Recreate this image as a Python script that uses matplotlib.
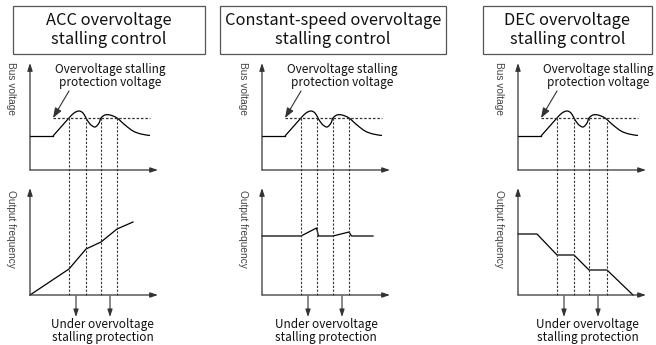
import numpy as np
import matplotlib
matplotlib.use("Agg")
import matplotlib.pyplot as plt
from matplotlib.path import Path
from matplotlib.patches import PathPatch, Rectangle

# panel titles and labels
titles = ["ACC overvoltage\nstalling control",
          "Constant-speed overvoltage\nstalling control",
          "DEC overvoltage\nstalling control"]
bus_label = "Bus voltage"
freq_label = "Output frequency"
limit_text = "Overvoltage stalling\nprotection voltage"
under_text = "Under overvoltage\nstalling protection"

# bus voltage (same shape in all three panels): flat part, then smooth part
bus_flat_t = [0, 23]
bus_flat_v = [34, 34]
bus_t = [23, 33, 39, 44, 49, 53, 56, 60, 65, 69, 71, 75, 80, 87, 95, 103, 111, 120]
bus_v = [34, 45.3, 52, 57, 59, 57, 52, 46, 43, 47, 52, 55, 55, 52, 45, 39, 36, 34.5]
limit_v = 52
limit_span = [23, 120]

# output frequency per panel
acc_t = [0, 39, 56, 71, 87, 103]
acc_f = [0, 26, 46, 53, 66, 73]
const_t = [0, 39, 54.5, 56.5, 71, 87, 89.5, 111]
const_f = [59, 59, 67, 59, 59, 63, 59, 59]
dec_t = [0, 19, 39, 56, 71, 89, 115]
dec_f = [61, 61, 40, 40, 25, 25, 0]

# crossing times (vertical dashed lines) per panel
acc_cross = [39, 56, 71, 87]
const_cross = [39, 55, 71, 87]
dec_cross = [39, 56, 71, 89]

# panel layout (pixels)
axis_x = [30, 262, 518]
box_x = [(13, 205), (220, 446), (483, 652)]
under_x = [72.5, 64, 69.5]
top_base = 170
bot_base = 295
ax_h = 107
ax_w = 128

freq_t = [acc_t, const_t, dec_t]
freq_f = [acc_f, const_f, dec_f]
crosses = [acc_cross, const_cross, dec_cross]

AX_COL = "#333333"
CJK = ["Noto Sans CJK SC", "DejaVu Sans"]


def smooth_path(xs, ys):
    # catmull-rom through the points, drawn as cubic beziers
    pts = np.column_stack([xs, ys])
    verts = [pts[0]]
    codes = [Path.MOVETO]
    n = len(pts)
    for i in range(n - 1):
        p0 = pts[max(i - 1, 0)]
        p1 = pts[i]
        p2 = pts[i + 1]
        p3 = pts[min(i + 2, n - 1)]
        c1 = p1 + (p2 - p0) / 6.0
        c2 = p2 - (p3 - p1) / 6.0
        verts += [c1, c2, p2]
        codes += [Path.CURVE4] * 3
    return Path(verts, codes)


def axis_arrow(ax, x0, y0, x1, y1):
    ax.annotate("", xy=(x1, y1), xytext=(x0, y0),
                arrowprops=dict(arrowstyle="-|>,head_length=0.45,head_width=0.15",
                                lw=0.9, color=AX_COL, shrinkA=0, shrinkB=0))


fig = plt.figure(figsize=(6.56, 3.45), dpi=100)
ax = fig.add_axes([0, 0, 1, 1])
ax.set_xlim(0, 656)
ax.set_ylim(345, 0)
ax.axis("off")

for k in range(3):
    x0 = axis_x[k]

    # title box
    bx0, bx1 = box_x[k]
    ax.add_patch(Rectangle((bx0, 6), bx1 - bx0, 48, fill=False, lw=0.9, ec="#555555"))
    ax.text((bx0 + bx1) / 2, 30, titles[k], ha="center", va="center",
            fontsize=11.8, family=CJK, linespacing=1.1, color="#111111")

    # axes
    axis_arrow(ax, x0, top_base, x0, top_base - ax_h)
    axis_arrow(ax, x0, top_base, x0 + ax_w, top_base)
    axis_arrow(ax, x0, bot_base, x0, bot_base - ax_h)
    axis_arrow(ax, x0, bot_base, x0 + ax_w, bot_base)

    ax.text(x0 - 19, 88, bus_label, rotation=-90, ha="center", va="center",
            fontsize=7.3, family="Liberation Sans", color="#444444")
    ax.text(x0 - 19, 229, freq_label, rotation=-90, ha="center", va="center",
            fontsize=7.3, family="Liberation Sans", color="#444444")

    # protection voltage level
    ax.plot([x0 + limit_span[0], x0 + limit_span[1]], [top_base - limit_v] * 2,
            color=AX_COL, lw=0.9, ls=(0, (2, 1.5)))

    # bus voltage curve
    ax.plot([x0 + t for t in bus_flat_t], [top_base - v for v in bus_flat_v],
            color="black", lw=0.9)
    p = smooth_path([x0 + t for t in bus_t], [top_base - v for v in bus_v])
    ax.add_patch(PathPatch(p, fill=False, lw=0.9, ec="black"))

    # output frequency
    ax.plot([x0 + t for t in freq_t[k]], [bot_base - f for f in freq_f[k]],
            color="black", lw=0.9)

    # crossings
    for t in crosses[k]:
        ax.plot([x0 + t, x0 + t], [top_base - limit_v, bot_base],
                color=AX_COL, lw=0.8, ls=(0, (2, 1.5)))

    # annotation of protection voltage
    ax.text(x0 + 80, 76, limit_text, ha="center", va="center",
            fontsize=8.5, family=CJK, linespacing=1.0, color="#111111")
    ax.annotate("", xy=(x0 + 23, top_base - limit_v), xytext=(x0 + 39, 91),
                arrowprops=dict(arrowstyle="-|>,head_length=0.6,head_width=0.22",
                                lw=0.8, color=AX_COL, shrinkA=0, shrinkB=0))

    # under protection arrows
    for t in [46, 80]:
        ax.annotate("", xy=(x0 + t, 317), xytext=(x0 + t, 296),
                    arrowprops=dict(arrowstyle="-|>,head_length=0.45,head_width=0.15",
                                    lw=0.8, color=AX_COL, shrinkA=0, shrinkB=0))
    ax.text(x0 + under_x[k], 331, under_text, ha="center", va="center",
            fontsize=8.5, family=CJK, linespacing=1.0, color="#111111")

fig.savefig("out.png", dpi=100)
